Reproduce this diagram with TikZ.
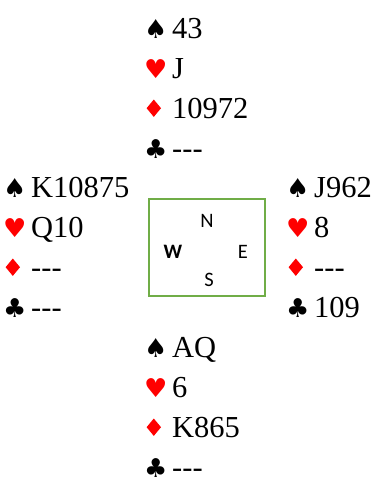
\documentclass[tikz,border=0pt]{standalone}
\usepackage{fontspec}
\setmainfont{Liberation Serif}
\newfontfamily\suitfont{DejaVu Sans}
\newfontfamily\dirfont{Carlito}
\definecolor{boxgreen}{HTML}{70AD47}
\definecolor{suitred}{HTML}{FF0000}
\begin{document}
\begin{tikzpicture}[x=1pt,y=-1pt,
  hand/.style={anchor=base west,inner sep=0pt,font=\fontsize{30.5}{30.5}\selectfont},
  dir/.style={inner sep=0pt,font=\dirfont\fontsize{20.5}{20.5}\selectfont},
  tablebox/.style={draw=boxgreen,line width=1.6pt},
  reddiamond/.pic={\fill[suitred] (0,-8.7) -- (7.2,0) -- (0,8.7) -- (-7.2,0) -- cycle;}]
\useasboundingbox (0,0) rectangle (383,490);
\newcommand{\SuitBox}[1]{\makebox[28pt][l]{\suitfont #1}}
\newcommand{\Sp}{\SuitBox{\fontsize{26}{26}\selectfont ♠}}
\newcommand{\He}{\SuitBox{\fontsize{26}{26}\selectfont\color{suitred}♥}}
\newcommand{\Di}{\SuitBox{}}
\newcommand{\Cl}{\SuitBox{\fontsize{26}{26}\selectfont ♣}}
\newcommand{\Void}{{-}{-}{-}}
% North
\node[hand] (ns) at (144,38) {\Sp 43};
\node[hand] (nh) at (144,78) {\He J};
\node[hand] (nd) at (144,118) {\Di 10972};
\node[hand] (nc) at (144,158) {\Cl \Void};
% West
\node[hand] (ws) at (3,197) {\Sp K10875};
\node[hand] (wh) at (3,237) {\He Q10};
\node[hand] (wd) at (3,277) {\Di \Void};
\node[hand] (wc) at (3,317) {\Cl \Void};
% East
\node[hand] (es) at (286,197) {\Sp J962};
\node[hand] (eh) at (286,237) {\He 8};
\node[hand] (ed) at (286,277) {\Di \Void};
\node[hand] (ec) at (286,317) {\Cl 109};
% South
\node[hand] (ss) at (144,357) {\Sp AQ};
\node[hand] (sh) at (144,397) {\He 6};
\node[hand] (sd) at (144,437) {\Di K865};
\node[hand] (sc) at (144,477) {\Cl \Void};
% diamond symbols
\pic at (153.8,108.2) {reddiamond};
\pic at (12.8,267.2) {reddiamond};
\pic at (295.8,267.2) {reddiamond};
\pic at (153.8,427.2) {reddiamond};
% Table
\draw[tablebox] (149,199) rectangle (265,296);
\node[dir] (dn) at (207,221) {N};
\node[dir] (dw) at (173,252) {\bfseries W};
\node[dir] (de) at (243,252) {E};
\node[dir] (ds) at (209,280) {S};
\end{tikzpicture}
\end{document}
